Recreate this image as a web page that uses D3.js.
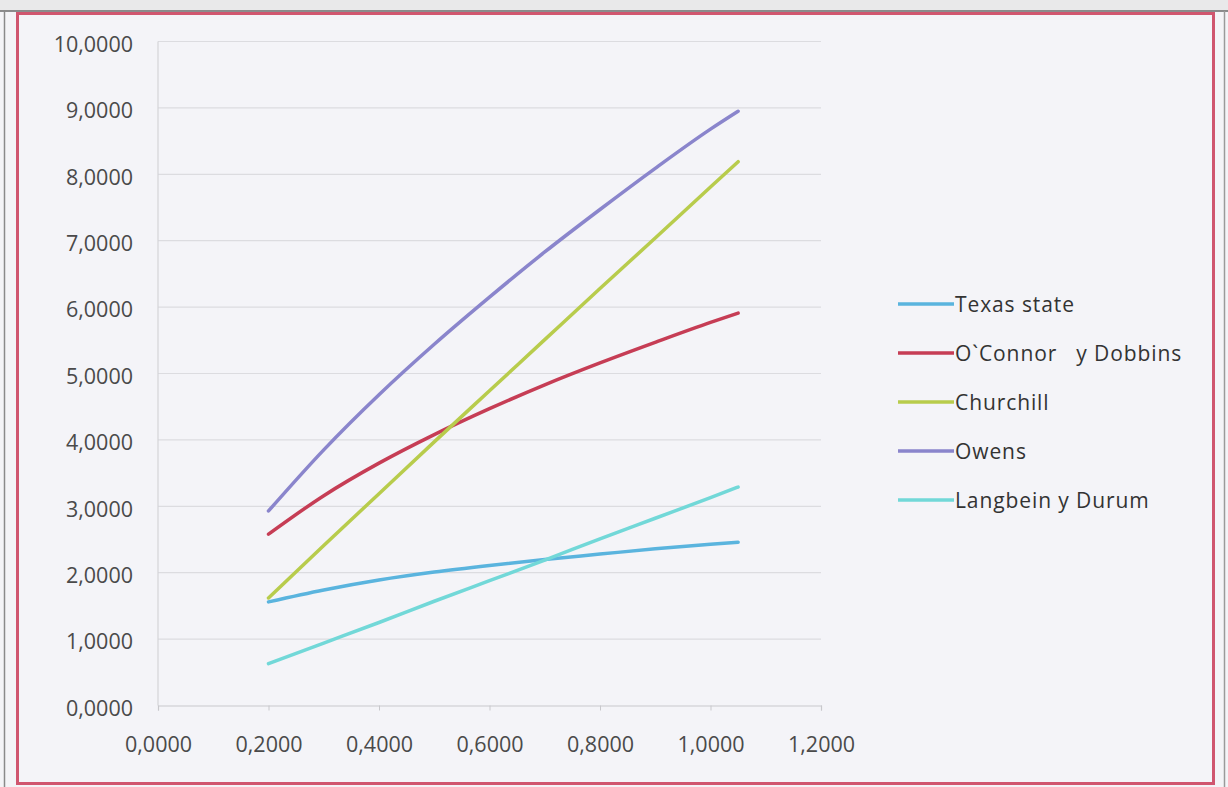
<!DOCTYPE html>
<html>
<head>
<meta charset="utf-8">
<script src="https://cdn.jsdelivr.net/npm/d3@7"></script>
<style>
  html, body { margin: 0; padding: 0; background: #f4f4f7; }
  svg { display: block; }
  text { font-family: "Open Sans", Lato, sans-serif; }
</style>
</head>
<body>
<svg id="chart" width="1228" height="787"></svg>
<script>
// Caudal / coeficiente values per method
const xValues = [0.20, 0.30, 0.40, 0.50, 0.60, 0.70, 0.80, 0.90, 1.00, 1.05];
const texasState = [1.56, 1.74, 1.89, 2.01, 2.11, 2.20, 2.28, 2.36, 2.43, 2.46];
const oConnorDobbins = [2.58, 3.16, 3.65, 4.08, 4.47, 4.83, 5.16, 5.47, 5.77, 5.91];
const churchill = [1.62, 2.41, 3.19, 3.97, 4.74, 5.51, 6.28, 7.04, 7.81, 8.19];
const owens = [2.93, 3.85, 4.68, 5.44, 6.15, 6.83, 7.47, 8.09, 8.68, 8.95];
const langbeinDurum = [0.63, 0.94, 1.25, 1.57, 1.88, 2.19, 2.51, 2.82, 3.13, 3.29];

const seriesNames = ["Texas state", "O`Connor   y Dobbins", "Churchill", "Owens", "Langbein y Durum"];
const seriesColors = ["#5ab4de", "#c63d55", "#b8cc4c", "#8a85cc", "#72d8d8"];
const seriesValues = [texasState, oConnorDobbins, churchill, owens, langbeinDurum];

const xTicks = [0, 0.2, 0.4, 0.6, 0.8, 1.0, 1.2];
const yTicks = [0, 1, 2, 3, 4, 5, 6, 7, 8, 9, 10];

const svg = d3.select("#chart");
const W = 1228, H = 787;

// page strip above the chart area and outer frame
svg.append("rect").attr("x", 0).attr("y", 0).attr("width", W).attr("height", 11).attr("fill", "#e9e9ea");
svg.append("line").attr("x1", 0).attr("x2", W).attr("y1", 11).attr("y2", 11).attr("stroke", "#6a6a6a").attr("stroke-width", 1.5);
svg.append("line").attr("x1", 4.5).attr("x2", 4.5).attr("y1", 11).attr("y2", H).attr("stroke", "#8a8a8a").attr("stroke-width", 1.5);
svg.append("line").attr("x1", 1224.5).attr("x2", 1224.5).attr("y1", 11).attr("y2", H).attr("stroke", "#9a9a9a").attr("stroke-width", 1.5);
svg.append("rect").attr("x", 17.5).attr("y", 13.5).attr("width", 1196).attr("height", 770)
  .attr("fill", "#f4f4f8").attr("stroke", "#d0566f").attr("stroke-width", 3);

const margin = { left: 158, right: 821, top: 41.5, bottom: 705.5 };
const x = d3.scaleLinear().domain([0, 1.2]).range([margin.left, margin.right]);
const y = d3.scaleLinear().domain([0, 10]).range([margin.bottom, margin.top]);

const fmt = d => d3.format(".4f")(d).replace(".", ",");

// horizontal gridlines
svg.append("g").selectAll("line").data(yTicks.filter(d => d > 0)).join("line")
  .attr("x1", margin.left).attr("x2", margin.right)
  .attr("y1", d => y(d)).attr("y2", d => y(d))
  .attr("stroke", "#dcdce0").attr("stroke-width", 1.2);

// vertical axis line
svg.append("line").attr("x1", margin.left).attr("x2", margin.left)
  .attr("y1", margin.top).attr("y2", margin.bottom)
  .attr("stroke", "#d4d4d8").attr("stroke-width", 1.2);

// x axis
const xAxis = d3.axisBottom(x).tickValues(xTicks).tickSize(5).tickPadding(26).tickFormat(fmt);
const gx = svg.append("g").attr("transform", `translate(0,${margin.bottom})`).call(xAxis);
gx.select(".domain").attr("stroke", "#c8c8cc").attr("stroke-width", 1.2);
gx.selectAll(".tick line").attr("stroke", "#c8c8cc");
gx.selectAll(".tick text").attr("fill", "#4a4a4a").attr("font-size", 21.5).attr("font-family", "'Open Sans', sans-serif");

// y axis
const yAxis = d3.axisLeft(y).tickValues(yTicks).tickSize(0).tickPadding(25).tickFormat(fmt);
const gy = svg.append("g").attr("transform", `translate(${margin.left},3)`).call(yAxis);
gy.select(".domain").remove();
gy.selectAll(".tick text").attr("fill", "#4a4a4a").attr("font-size", 21.5).attr("font-family", "'Open Sans', sans-serif");

// series lines
const line = d3.line().x((d, i) => x(xValues[i])).y(d => y(d)).curve(d3.curveMonotoneX);
svg.append("g").selectAll("path").data(seriesValues).join("path")
  .attr("d", d => line(d))
  .attr("fill", "none")
  .attr("stroke", (d, i) => seriesColors[i])
  .attr("stroke-width", 3.5)
  .attr("stroke-linecap", "round");

// legend
const legend = svg.append("g").attr("transform", "translate(898,304)");
const rows = legend.selectAll("g").data(seriesNames).join("g")
  .attr("transform", (d, i) => `translate(0,${i * 49})`);
rows.append("line").attr("x1", 0).attr("x2", 56).attr("y1", 0).attr("y2", 0)
  .attr("stroke", (d, i) => seriesColors[i]).attr("stroke-width", 3.5);
rows.append("text").attr("x", 57).attr("y", 1).attr("dy", "0.35em")
  .attr("fill", "#333").attr("font-size", 21).attr("letter-spacing", 0.9)
  .style("white-space", "pre")
  .text(d => d);
</script>
</body>
</html>
